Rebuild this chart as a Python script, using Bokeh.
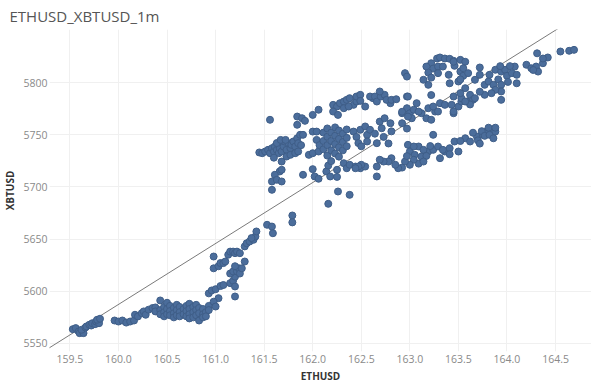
from bokeh.plotting import figure
from bokeh.models import Range1d, FixedTicker, ColumnDataSource
from bokeh.embed import file_html
from bokeh.resources import INLINE

title_text = "ETHUSD_XBTUSD_1m"
x_label = "ETHUSD"
y_label = "XBTUSD"
x_ticks = [159.5, 160.0, 160.5, 161.0, 161.5, 162.0, 162.5, 163.0, 163.5, 164.0, 164.5]
y_ticks = [5550, 5600, 5650, 5700, 5750, 5800]

# regression / reference line end points
trend_x = [159.24, 164.60]
trend_y = [5543.0, 5856.0]

# points: (ETHUSD, XBTUSD)
pts_low = [
    (159.53, 5563.7), (159.56, 5564.7), (159.59, 5561.5), (159.60, 5559.9), (159.64, 5559.9),
    (159.62, 5563.1), (159.66, 5565.3), (159.67, 5566.3), (159.70, 5567.9), (159.72, 5567.2),
    (159.73, 5569.4), (159.76, 5568.5), (159.77, 5571.0), (159.79, 5571.7), (159.80, 5569.4),
    (159.78, 5572.7), (159.81, 5573.7),
    (159.96, 5572), (160.00, 5571), (160.04, 5572), (160.08, 5570), (160.12, 5571), (160.16, 5572),
    (160.17, 5577.5), (160.20, 5575.9), (160.24, 5579.0), (160.26, 5580.7), (160.28, 5577.5),
    (160.31, 5582.3), (160.35, 5583.9), (160.38, 5584.5), (160.38, 5580.7), (160.43, 5591.2),
    (160.43, 5582), (160.43, 5578), (160.47, 5585), (160.47, 5580), (160.47, 5576),
    (160.50, 5589), (160.50, 5583), (160.50, 5578), (160.53, 5586), (160.53, 5581), (160.53, 5577),
    (160.57, 5584), (160.57, 5579), (160.57, 5575), (160.60, 5587), (160.60, 5582), (160.60, 5577),
    (160.63, 5585), (160.63, 5580), (160.63, 5576), (160.67, 5583), (160.67, 5578),
    (160.70, 5586), (160.70, 5581), (160.70, 5576), (160.73, 5588), (160.73, 5583), (160.73, 5578),
    (160.73, 5574), (160.77, 5585), (160.77, 5580), (160.77, 5575), (160.80, 5587), (160.80, 5582),
    (160.80, 5577), (160.83, 5584), (160.83, 5579), (160.83, 5572), (160.87, 5583), (160.87, 5578),
    (160.87, 5575), (160.90, 5580), (160.90, 5576), (160.93, 5586), (160.93, 5582),
]

pts_rise = [
    (160.93, 5598.0), (160.96, 5600.8), (161.00, 5602.0), (161.05, 5605.0), (161.08, 5606.0),
    (161.15, 5607.8), (161.18, 5610.0), (161.20, 5614.0), (161.20, 5604.6), (161.20, 5595.0),
    (161.03, 5593.4), (160.98, 5590.0), (161.00, 5585.4), (161.15, 5617.0), (161.18, 5619.0),
    (161.22, 5619.0), (161.24, 5622.0), (161.25, 5617.0), (161.20, 5624.0), (160.98, 5622.0),
    (161.03, 5624.0), (161.05, 5627.0), (161.08, 5627.0), (161.10, 5628.5), (160.98, 5633.3),
    (161.13, 5635.0), (161.15, 5638.0), (161.18, 5638.0), (161.20, 5636.5), (161.22, 5638.0),
    (161.25, 5636.5), (161.30, 5628.5), (161.27, 5622.0), (161.30, 5643.0), (161.32, 5646.0),
    (161.35, 5647.7), (161.39, 5649.3), (161.41, 5652.5), (161.42, 5657.3), (161.37, 5651.0),
    (161.53, 5663.7), (161.58, 5662.0), (161.59, 5655.6), (161.79, 5672.6), (161.79, 5666.0),
]

pts_left = [
    (161.45, 5733.0), (161.48, 5732.3), (161.51, 5733.9), (161.54, 5735.5), (161.56, 5732.3),
    (161.58, 5737.1), (161.60, 5733.9), (161.61, 5738.7), (161.63, 5735.5), (161.65, 5740.3),
    (161.65, 5732.3), (161.66, 5737.1), (161.68, 5733.9), (161.70, 5738.7), (161.71, 5743.5),
    (161.73, 5735.5), (161.75, 5741.9), (161.77, 5737.1), (161.78, 5740.3), (161.80, 5743.5),
    (161.82, 5738.7), (161.84, 5746.6), (161.85, 5741.9), (161.87, 5749.9), (161.90, 5749.9),
    (161.68, 5724.3), (161.73, 5729.1), (161.77, 5730.7), (161.82, 5732.3), (161.85, 5733.9),
    (161.60, 5728.0), (161.63, 5742.0), (161.67, 5745.0), (161.72, 5745.0),
    (161.88, 5740.0),
    (161.56, 5764.3), (161.84, 5767.4), (161.89, 5765.8), (161.92, 5763.3), (161.84, 5759.5),
    (162.00, 5769.0), (162.06, 5773.9), (162.00, 5753.0), (162.04, 5753.0),
    (161.96, 5730.7), (162.00, 5732.3), (162.06, 5733.9), (161.90, 5711.6), (162.02, 5710.0),
    (162.06, 5707.8), (162.00, 5717.0), (161.66, 5714.8), (161.68, 5716.4), (161.61, 5711.6),
    (161.58, 5705.2), (161.63, 5706.8), (161.68, 5705.2), (161.58, 5697.2),
    (162.26, 5695.6), (162.38, 5692.4), (162.16, 5683.8),
    (162.04, 5745.0), (162.07, 5740.0),
]

pts_center = [
    (162.11, 5752), (162.11, 5744), (162.11, 5736),
    (162.15, 5756), (162.15, 5748), (162.15, 5740), (162.15, 5730),
    (162.19, 5752), (162.19, 5744), (162.19, 5735),
    (162.23, 5757), (162.23, 5749), (162.23, 5741), (162.23, 5732),
    (162.27, 5754), (162.27, 5746), (162.27, 5738), (162.27, 5729),
    (162.31, 5751), (162.31, 5743), (162.31, 5735),
    (162.35, 5755), (162.35, 5747), (162.35, 5739),
    (162.21, 5778.6), (162.25, 5777.0), (162.28, 5780.2), (162.32, 5781.8), (162.35, 5783.4),
    (162.38, 5785.0), (162.42, 5778.6), (162.45, 5781.8), (162.54, 5777.0), (162.21, 5772.2),
    (162.26, 5769.0), (162.32, 5775.4), (162.37, 5777.0), (162.62, 5785.0),
    (162.80, 5780.2), (162.97, 5786.6),
    (162.14, 5714.8), (162.16, 5720.5), (162.19, 5724.7), (162.18, 5710.0), (162.25, 5716.4),
    (162.32, 5722.7), (162.35, 5717.9), (162.38, 5721.2), (162.44, 5719.5), (162.49, 5717.9),
    (162.25, 5709.6),
]

pts_mid = [
    (162.45, 5786.6), (162.49, 5788.2), (162.49, 5782.4), (162.59, 5786.6), (162.64, 5786.6),
    (162.66, 5781.8), (162.70, 5786.6), (162.74, 5788.2), (162.76, 5783.4), (162.81, 5783.4),
    (162.86, 5784.0),
    (162.98, 5786.6), (163.07, 5780.2), (162.92, 5770.6), (162.97, 5775.4), (163.00, 5770.6),
    (163.04, 5773.9), (163.12, 5770.6), (163.17, 5765.8), (163.22, 5764.3), (163.26, 5772.2),
    (163.31, 5780.2), (163.36, 5778.6), (163.43, 5778.6), (163.50, 5777.0), (163.53, 5781.8),
    (162.42, 5753.0), (162.45, 5747.9), (162.47, 5742.0), (162.49, 5754.7), (162.50, 5738.9),
    (162.54, 5757.9), (162.56, 5749.9), (162.56, 5743.5), (162.59, 5754.7),
    (162.64, 5751.0), (162.66, 5741.9), (162.69, 5762.6), (162.71, 5756.2), (162.73, 5747.9),
    (162.74, 5765.8), (162.78, 5741.6), (162.80, 5761.0),
    (162.81, 5753.2), (162.92, 5761.0), (162.97, 5755.9),
    (163.02, 5765.8), (163.24, 5749.9),
    (162.69, 5791.4), (162.92, 5772.0), (162.98, 5767.4), (163.09, 5772.2),
    (163.19, 5775.4), (163.24, 5777.0), (163.29, 5772.2), (163.45, 5770.6),
    (163.53, 5785.0), (163.57, 5794.6), (163.59, 5781.8), (163.62, 5788.2),
    (163.65, 5783.4),
]

pts_top = [
    (163.28, 5823.0), (163.31, 5824.0), (163.36, 5823.0), (163.41, 5822.7), (163.45, 5820.8),
    (163.46, 5816.0), (163.22, 5818.5), (163.24, 5813.4), (163.29, 5815.3), (163.34, 5815.3),
    (163.17, 5815.3), (163.19, 5809.5), (163.22, 5804.7), (163.19, 5797.8), (163.14, 5802.6),
    (162.95, 5809.0), (162.97, 5805.7), (163.40, 5807.4), (163.52, 5810.5), (163.41, 5799.3),
    (163.22, 5788.0), (163.52, 5789.8), (163.29, 5809.0),
    (163.50, 5801.0), (163.55, 5806.4),
]

pts_right = [
    (163.45, 5819.9), (163.52, 5821.7), (163.57, 5819.9), (163.55, 5813.7), (163.60, 5809.0),
    (163.52, 5803.0), (163.67, 5802.6), (163.72, 5814.4), (163.72, 5807.4),
    (163.77, 5797.8), (163.81, 5801.0), (163.82, 5807.4),
    (163.86, 5797.8), (163.88, 5812.2), (163.91, 5803.0), (163.94, 5810.5),
    (163.98, 5812.2), (164.00, 5806.4), (164.01, 5800.6), (164.05, 5809.0),
    (164.08, 5815.3), (164.10, 5807.4), (164.10, 5799.3), (163.94, 5797.8),
    (163.94, 5791.4), (163.94, 5783.4), (163.88, 5793.0), (163.84, 5789.8),
    (163.77, 5788.2), (163.72, 5791.2), (163.67, 5785.0), (163.62, 5779.0),
    (163.57, 5781.8), (163.45, 5786.6),
    (163.45, 5772.2), (164.20, 5817.0), (164.25, 5813.7), (164.30, 5815.3), (164.32, 5810.5),
    (164.37, 5818.5), (164.42, 5824.0), (164.31, 5828.0), (164.64, 5830.4), (164.69, 5831.3),
    (163.93, 5815.7), (164.03, 5815.7), (164.27, 5812.0),
    (164.37, 5823.0), (164.55, 5829.7),
]

pts_band = [
    (162.98, 5740.3), (163.00, 5733.9), (163.05, 5730.7), (163.09, 5738.7),
    (163.12, 5729.1), (163.09, 5722.3), (163.04, 5726.0), (163.00, 5721.2),
    (162.95, 5724.3), (162.92, 5718.5), (162.88, 5717.9), (162.85, 5721.2), (162.81, 5727.5),
    (162.78, 5724.3), (162.73, 5724.3), (162.69, 5726.0), (162.66, 5719.5), (162.54, 5719.5),
    (162.50, 5721.2), (162.47, 5719.5), (162.44, 5717.9), (162.66, 5710.0), (163.19, 5733.9),
    (163.24, 5735.5), (163.31, 5727.5), (163.36, 5733.9), (163.41, 5737.1),
    (163.46, 5743.5), (163.50, 5733.9),
    (163.04, 5738.7), (163.14, 5735.5), (163.17, 5729.7), (163.21, 5739.1),
    (163.29, 5738.7), (163.34, 5735.5), (163.41, 5731.3),
    (163.57, 5746.6), (163.69, 5748.3), (163.75, 5749.9),
    (163.79, 5753.0), (163.84, 5754.7), (163.88, 5753.0), (162.97, 5729.5),
    (163.14, 5724.3),
    (163.65, 5751.9), (163.70, 5744.6), (163.74, 5753.4), (163.77, 5748.9),
    (163.81, 5756.7), (163.82, 5749.9), (163.86, 5746.6), (163.88, 5756.7),
    (163.72, 5741.5), (163.62, 5743.5), (163.52, 5744.0),
]

all_pts = pts_low + pts_rise + pts_left + pts_center + pts_mid + pts_top + pts_right + pts_band
eth = [p_[0] for p_ in all_pts]
xbt = [p_[1] for p_ in all_pts]

src = ColumnDataSource(data=dict(eth=eth, xbt=xbt))

p = figure(frame_width=542, frame_height=322, output_backend="svg", toolbar_location=None,
           x_range=Range1d(159.29, 164.87), y_range=Range1d(5542.3, 5850.8),
           min_border_left=0, min_border_right=0, min_border_top=0, min_border_bottom=0)

p.title.text = title_text
p.title.text_font = "Open Sans"
p.title.text_font_size = "15px"
p.title.text_font_style = "normal"
p.title.text_color = "#555555"
p.title.align = "left"
p.title.offset = -40
p.title.standoff = 7

p.outline_line_color = None
p.background_fill_color = "white"
p.border_fill_color = "white"

for ax in (p.xaxis[0], p.yaxis[0]):
    ax.axis_line_color = None
    ax.major_tick_line_color = None
    ax.minor_tick_line_color = None
    ax.major_tick_out = 0
    ax.major_tick_in = 0
    ax.minor_tick_out = 0
    ax.minor_tick_in = 0
    ax.major_label_text_font = "Open Sans"
    ax.major_label_text_font_size = "10.5px"
    ax.major_label_text_color = "#8a8a8a"
    ax.axis_label_text_font = "Open Sans"
    ax.axis_label_text_font_size = "10px"
    ax.axis_label_text_font_style = "bold"
    ax.axis_label_text_color = "#333333"
    ax.major_label_standoff = 3
    ax.axis_label_standoff = 3

p.yaxis[0].major_label_standoff = 2

p.xaxis[0].ticker = FixedTicker(ticks=x_ticks)
p.yaxis[0].ticker = FixedTicker(ticks=y_ticks)
p.xaxis[0].axis_label = x_label
p.yaxis[0].axis_label = y_label
p.xaxis[0].major_label_overrides = {v: f"{v:.1f}" for v in x_ticks}

p.xgrid.grid_line_color = "#f0f0f0"
p.ygrid.grid_line_color = "#f0f0f0"

p.line(trend_x, trend_y, line_color="#7a7a7a", line_width=1)
p.scatter("eth", "xbt", source=src, size=7, fill_color="#4b6d9b", line_color="#3f5e88",
          line_width=1)

open("out.html", "w").write(file_html(p, INLINE))
